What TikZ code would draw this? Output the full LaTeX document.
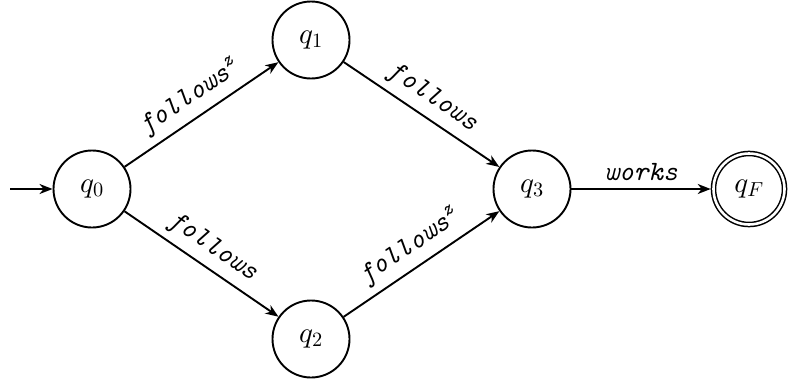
\RequirePackage{fix-cm}
\documentclass[tikz,border=0pt]{standalone}
\DeclareFontShape{OML}{cmm}{m}{it}{<->cmmi10}{}
\DeclareFontShape{OT1}{cmr}{m}{n}{<->cmr10}{}
\usetikzlibrary{arrows.meta}
\begin{document}
\begin{tikzpicture}[x=1pt,y=-1pt,
  state/.style={circle,draw,line width=1.9pt,minimum size=77pt,inner sep=0pt,font=\fontsize{29}{34}\selectfont},
  accept/.style={state,double,line width=1.5pt,double distance=2.6pt,minimum size=71pt,outer sep=2.8pt},
  edge/.style={-{Stealth[length=13pt,width=10pt,inset=4pt]},line width=1.9pt},
  lab/.style={font=\fontsize{28}{34}\selectfont\ttfamily\itshape,sloped,above,inner sep=7pt}]
\useasboundingbox (0,0) rectangle (789,380);
\node[state] (q0) at (92,189) {$q_0$};
\node[state] (q1) at (311,40) {$q_1$};
\node[state] (q2) at (311,339) {$q_2$};
\node[state] (q3) at (532,189) {$q_3$};
\node[accept] (qF) at (749,189) {$q_F$};
\coordinate (start) at (10,189);
\draw[edge] (start) -- (q0);
\draw[edge] (q0) -- node[lab] {follows\textsuperscript{z}} (q1);
\draw[edge] (q0) -- node[lab] {follows} (q2);
\draw[edge] (q1) -- node[lab] {follows} (q3);
\draw[edge] (q2) -- node[lab] {follows\textsuperscript{z}} (q3);
\draw[edge] (q3) -- node[lab] {works} (qF);
\end{tikzpicture}
\end{document}
